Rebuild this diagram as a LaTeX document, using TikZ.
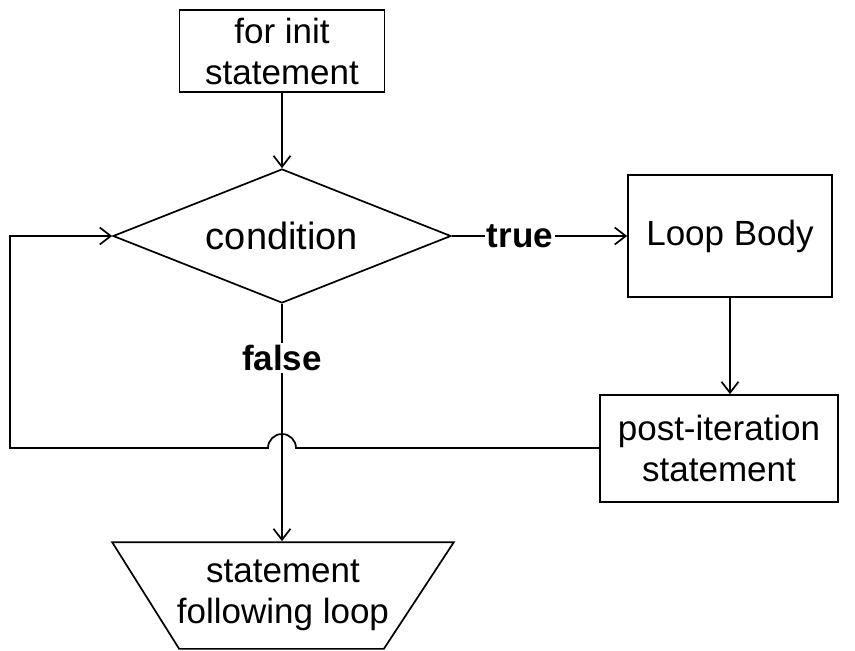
\documentclass[tikz,border=0pt]{standalone}
\usepackage{fontspec}
\setmainfont{Liberation Sans}
\usetikzlibrary{arrows.meta,shapes.geometric}
\begin{document}
\begin{tikzpicture}[x=1pt,y=-1pt,line width=1.7pt,
  every node/.style={font=\fontsize{35}{41}\selectfont},
  box/.style={draw,rectangle,inner sep=0pt,align=center},
  arr/.style={-{Straight Barb[length=11pt,width=17pt,line width=1.7pt]}},
  lbl/.style={fill=white,inner sep=2pt,font=\fontsize{35}{41}\selectfont\bfseries}]
\useasboundingbox (0,0) rectangle (855,651);

% blocks
\node[box,minimum width=205,minimum height=82] (init) at (282,51) {for init\\statement};
\node[draw,diamond,inner sep=0pt,shape aspect=2.52,minimum width=338,minimum height=134,
      font=\fontsize{38}{44}\selectfont] (cond) at (282,236) {condition};
\node[box,minimum width=204,minimum height=122] (body) at (730,236) {Loop Body};
\node[box,minimum width=238,minimum height=107] (post) at (719,448.5) {post-iteration\\statement};
% exit block: an inverted trapezoid around the text node
\node[rectangle,inner sep=0pt,align=center,minimum width=340,minimum height=106] (after) at (283,595) {statement\\following loop};
\draw ([yshift=-1pt]after.north west) -- ([yshift=-1pt]after.north east)
      -- ([xshift=-70pt]after.south east) -- ([xshift=67pt]after.south west) -- cycle;

% connectors
\draw[arr] (init.south) -- (init.south |- cond.north);
\draw[arr] (cond.east) -- (body.west);
\draw[arr] (body.south) -- (body.south |- post.north);
\draw[arr] (cond.south) -- (cond.south |- after.north);
\coordinate (hopR) at (296,448);
\coordinate (corner1) at (10,448);
\coordinate (corner2) at (10,236);
\draw[arr] (post.west |- hopR) -- (hopR) arc(0:-180:14) -- (corner1) -- (corner2) -- (cond.west);

% branch labels
\node[lbl] (t) at (520,236) {true};
\node[lbl] (f) at (282,358) {false};
\end{tikzpicture}
\end{document}
